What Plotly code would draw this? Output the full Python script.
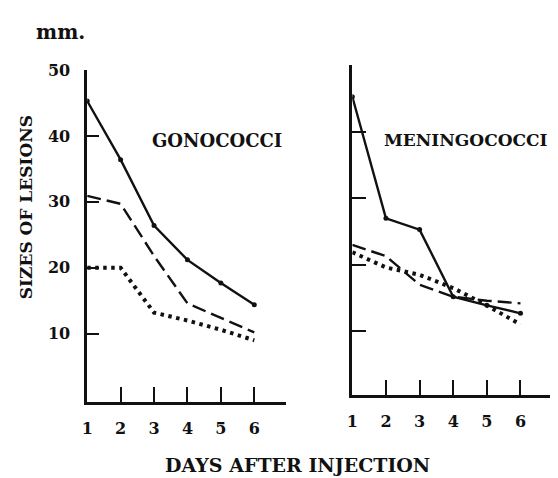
import plotly.graph_objects as go

W, H = 558, 478
OFF = 8  # page body margin offset

days = [1, 2, 3, 4, 5, 6]
tick_days = [1, 2, 3, 4, 5, 6]
y_ticks = [10, 20, 30, 40, 50]
y_tick_labels = ["10", "20", "30", "40", "50"]

# Gonococci panel
gono_solid = [45.3, 36.4, 26.4, 21.2, 17.7, 14.4]
gono_dashed = [30.9, 29.7, 21.8, 14.6, 12.4, 10.2]
gono_dotted = [20.0, 20.0, 13.2, 12.0, 10.6, 9.0]

# Meningococci panel
men_solid = [45.3, 27.0, 25.3, 15.2, 13.9, 12.7]
men_dashed = [23.0, 21.3, 17.0, 15.2, 14.6, 14.2]
men_dotted = [21.9, 19.6, 18.5, 16.5, 13.9, 11.0]

FONT = "DejaVu Serif"
INK = "#111111"


def px_x(p):
    return (p - OFF) / W


def px_y(p):
    return 1 - (p - OFF) / H


fig = go.Figure()


def add_panel(xa, ya, solid, dashed, dotted):
    fig.add_trace(go.Scatter(x=days, y=solid, xaxis=xa, yaxis=ya, mode="lines+markers",
                             line=dict(color=INK, width=2.4),
                             marker=dict(color=INK, size=5), showlegend=False))
    fig.add_trace(go.Scatter(x=days, y=dashed, xaxis=xa, yaxis=ya, mode="lines",
                             line=dict(color=INK, width=2.4, dash="14px,6px"),
                             showlegend=False))
    fig.add_trace(go.Scatter(x=days, y=dotted, xaxis=xa, yaxis=ya, mode="lines",
                             line=dict(color=INK, width=4, dash="3.5px,4.5px"),
                             showlegend=False))


add_panel("x", "y", gono_solid, gono_dashed, gono_dotted)
add_panel("x2", "y2", men_solid, men_dashed, men_dotted)

axis_common = dict(showgrid=False, zeroline=False, showline=True, linecolor=INK,
                   linewidth=2.5, ticks="inside", tickcolor=INK, tickwidth=2)

tickfont = dict(family=FONT, size=16, color=INK, weight="bold")

fig.update_layout(
    width=W, height=H,
    margin=dict(l=0, r=0, t=0, b=0),
    paper_bgcolor="white", plot_bgcolor="white",
    xaxis=dict(domain=[px_x(82), px_x(283)], range=[1, 6.95], anchor="y",
               tickvals=tick_days, ticktext=[str(d) for d in tick_days], ticklen=15,
               tickfont=tickfont, ticklabelstandoff=10, **axis_common),
    yaxis=dict(domain=[px_y(400), px_y(62)], range=[-0.3, 50], anchor="x",
               tickvals=y_ticks, ticktext=y_tick_labels, ticklen=12,
               tickfont=tickfont, ticklabelstandoff=11, **axis_common),
    xaxis2=dict(domain=[px_x(350), px_x(555)], range=[1, 7.03], anchor="y2",
                tickvals=tick_days, ticktext=[str(d) for d in tick_days], ticklen=15,
                tickfont=tickfont, ticklabelstandoff=10, **axis_common),
    yaxis2=dict(domain=[px_y(393), px_y(57)], range=[0.44, 50.07], anchor="x2",
                tickvals=y_ticks[:-1], ticklen=14, showticklabels=False, **axis_common),
)

ann_font = lambda s: dict(family=FONT, size=s, color=INK, weight="bold")


def label(text, x, y, size, angle=0):
    fig.add_annotation(text=text, x=px_x(x), y=px_y(y), xref="paper", yref="paper",
                       xanchor="center", yanchor="middle", showarrow=False,
                       textangle=angle, font=ann_font(size))


label("mm.", 55, 23, 20)
label("SIZES OF LESIONS", 20, 202, 17, -90)
label("GONOCOCCI", 213, 134, 18)
label("MENINGOCOCCI", 465, 133, 17)
label("DAYS AFTER INJECTION", 295, 465, 19)

fig.write_html("out.html")
